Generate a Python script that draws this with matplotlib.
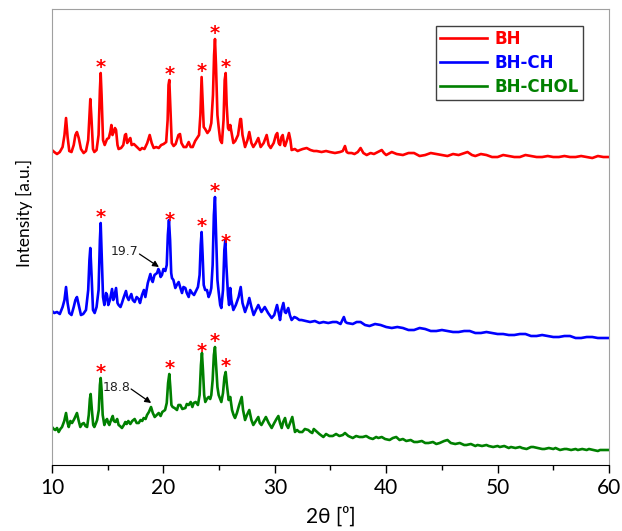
import numpy as np
import matplotlib
matplotlib.use("Agg")
import matplotlib.pyplot as plt

# XRD patterns: (2theta [deg], intensity [a.u., stacked])
bh = [(10.0, 315), (10.2, 313), (10.45, 311), (10.7, 313), (10.95, 318), (11.12, 330), (11.26, 347),
      (11.4, 328), (11.55, 314), (11.75, 313), (11.95, 320), (12.1, 330), (12.24, 333), (12.4, 327),
      (12.6, 316), (12.84, 312), (13.05, 314), (13.25, 325), (13.36, 350), (13.44, 366), (13.55, 345),
      (13.68, 316), (13.8, 313), (14.0, 315), (14.18, 330), (14.3, 375), (14.37, 392), (14.45, 370),
      (14.58, 325), (14.73, 320), (14.94, 326), (15.1, 327), (15.25, 334), (15.33, 340), (15.43, 330),
      (15.54, 333), (15.65, 337), (15.75, 335), (15.88, 320), (15.98, 316), (16.2, 317), (16.4, 320),
      (16.55, 330), (16.64, 331), (16.75, 322), (16.9, 325), (17.03, 327), (17.15, 320), (17.35, 321),
      (17.63, 318), (17.9, 315), (18.08, 317), (18.3, 316), (18.55, 322), (18.77, 330), (18.95, 322),
      (19.13, 317), (19.35, 318), (19.58, 317), (19.8, 320), (20.02, 321), (20.25, 323), (20.38, 345),
      (20.46, 380), (20.53, 385), (20.62, 360), (20.75, 322), (20.92, 319), (21.1, 321), (21.35, 330),
      (21.49, 331), (21.62, 322), (21.82, 318), (22.05, 318), (22.27, 323), (22.45, 318), (22.63, 318),
      (22.85, 324), (23.02, 327), (23.2, 330), (23.32, 350), (23.43, 388), (23.52, 365), (23.62, 338),
      (23.75, 336), (23.95, 332), (24.15, 335), (24.3, 342), (24.45, 370), (24.55, 410), (24.63, 426),
      (24.72, 400), (24.85, 350), (24.96, 338), (25.1, 325), (25.25, 322), (25.4, 345), (25.5, 385),
      (25.59, 392), (25.68, 360), (25.8, 337), (25.9, 335), (26.0, 340), (26.15, 330), (26.28, 322),
      (26.45, 324), (26.7, 330), (26.9, 346), (26.97, 346), (27.1, 330), (27.33, 318), (27.55, 325),
      (27.71, 333), (27.9, 322), (28.07, 318), (28.3, 322), (28.52, 327), (28.73, 318), (29.0, 322),
      (29.27, 330), (29.45, 320), (29.63, 317), (29.9, 322), (30.1, 330), (30.22, 332), (30.35, 322),
      (30.47, 320), (30.6, 328), (30.71, 330), (30.85, 320), (30.92, 319), (31.1, 325), (31.27, 332),
      (31.4, 325), (31.51, 315), (31.8, 316), (32.05, 314), (32.26, 315), (32.5, 316), (32.86, 317),
      (33.2, 315), (33.5, 314), (33.76, 314), (34.2, 313), (34.6, 314), (34.95, 313), (35.4, 312),
      (35.85, 313), (36.1, 314), (36.3, 319), (36.45, 313), (36.6, 312), (36.9, 312), (37.15, 311),
      (37.45, 313), (37.7, 317), (37.95, 312), (38.25, 310), (38.6, 312), (38.9, 311), (39.25, 313),
      (39.6, 315), (39.8, 312), (40.0, 310), (40.5, 313), (40.94, 311), (41.5, 310), (42.0, 312),
      (42.5, 312), (43.0, 309), (43.5, 310), (44.0, 312), (44.5, 311), (45.0, 310), (45.5, 309),
      (46.0, 311), (46.5, 310), (47.3, 313), (47.7, 310), (48.0, 309), (48.5, 311), (49.0, 310),
      (49.5, 308), (50.0, 308), (50.5, 310), (51.0, 309), (51.5, 308), (52.0, 308), (52.5, 310),
      (53.0, 309), (53.5, 308), (54.0, 308), (54.5, 309), (55.0, 308), (55.5, 308), (56.0, 309),
      (56.5, 308), (57.0, 308), (57.5, 309), (58.0, 308), (58.5, 307), (59.0, 309), (59.5, 308),
      (60.0, 308)]

bh_ch = [(10.0, 154), (10.2, 152), (10.45, 153), (10.7, 151), (10.95, 158), (11.12, 165), (11.26, 178),
         (11.4, 162), (11.55, 152), (11.75, 150), (11.95, 158), (12.1, 165), (12.24, 168), (12.4, 160),
         (12.6, 150), (12.8, 151), (13.05, 155), (13.25, 175), (13.36, 205), (13.44, 217), (13.55, 190),
         (13.68, 155), (13.83, 152), (14.0, 158), (14.18, 175), (14.3, 225), (14.37, 242), (14.45, 215),
         (14.58, 168), (14.7, 160), (14.85, 172), (14.94, 170), (15.05, 160), (15.2, 165), (15.39, 176),
         (15.5, 165), (15.57, 167), (15.75, 177), (15.88, 162), (15.98, 160), (16.15, 158), (16.28, 162),
         (16.45, 168), (16.64, 174), (16.75, 168), (16.88, 165), (17.0, 168), (17.12, 171), (17.25, 165),
         (17.42, 163), (17.6, 168), (17.78, 166), (17.9, 162), (18.08, 170), (18.25, 175), (18.38, 168),
         (18.6, 182), (18.83, 191), (18.95, 185), (19.04, 183), (19.2, 190), (19.43, 192), (19.55, 196),
         (19.63, 194), (19.75, 188), (19.87, 190), (20.0, 196), (20.17, 194), (20.3, 200), (20.4, 230),
         (20.5, 245), (20.6, 225), (20.7, 192), (20.77, 187), (20.9, 185), (21.07, 177), (21.2, 180),
         (21.37, 183), (21.5, 178), (21.67, 172), (21.8, 178), (21.97, 177), (22.1, 172), (22.27, 168),
         (22.4, 175), (22.57, 172), (22.75, 170), (22.93, 174), (23.1, 178), (23.25, 190), (23.35, 220),
         (23.43, 233), (23.52, 210), (23.62, 180), (23.75, 175), (23.91, 175), (24.06, 168), (24.2, 172),
         (24.3, 177), (24.42, 200), (24.53, 250), (24.63, 268), (24.72, 235), (24.85, 185), (24.96, 173),
         (25.1, 160), (25.2, 157), (25.35, 175), (25.47, 215), (25.56, 225), (25.65, 200), (25.8, 170),
         (25.9, 160), (26.0, 177), (26.1, 165), (26.28, 155), (26.5, 160), (26.75, 168), (26.94, 178),
         (27.1, 162), (27.33, 153), (27.55, 160), (27.71, 167), (27.9, 158), (28.1, 150), (28.3, 155),
         (28.52, 160), (28.8, 153), (29.1, 158), (29.4, 152), (29.72, 147), (29.95, 150), (30.2, 160),
         (30.35, 152), (30.47, 145), (30.6, 155), (30.77, 162), (30.9, 153), (31.0, 152), (31.21, 157),
         (31.35, 150), (31.51, 145), (31.75, 148), (31.96, 147), (32.2, 145), (32.4, 145), (32.8, 144),
         (33.17, 143), (33.6, 144), (34.0, 142), (34.36, 143), (34.8, 142), (35.2, 143), (35.55, 143),
         (35.9, 141), (36.2, 148), (36.35, 143), (36.5, 142), (37.0, 141), (37.35, 143), (37.7, 143),
         (38.1, 140), (38.5, 139), (39.0, 141), (39.5, 140), (40.0, 138), (40.5, 137), (41.0, 138),
         (41.5, 137), (42.0, 135), (42.5, 135), (43.0, 137), (43.5, 136), (44.0, 134), (44.5, 134),
         (45.0, 135), (45.5, 134), (46.0, 133), (46.5, 133), (47.0, 134), (47.5, 134), (48.0, 132),
         (48.5, 132), (49.0, 133), (49.5, 132), (50.0, 131), (50.5, 131), (51.0, 130), (51.5, 130),
         (52.0, 131), (52.5, 131), (53.0, 129), (53.5, 129), (54.0, 130), (54.5, 129), (55.0, 128),
         (55.5, 128), (56.0, 129), (56.5, 129), (57.0, 127), (57.5, 127), (58.0, 128), (58.5, 128),
         (59.0, 127), (59.5, 127), (60.0, 127)]

bh_chol = [(10.0, 38), (10.15, 36), (10.3, 35), (10.45, 37), (10.6, 33), (10.75, 36), (10.9, 38),
           (11.1, 44), (11.26, 52), (11.4, 42), (11.5, 38), (11.65, 44), (11.8, 42), (12.0, 46),
           (12.24, 52), (12.4, 44), (12.54, 38), (12.7, 41), (12.85, 42), (13.0, 39), (13.15, 38),
           (13.3, 50), (13.4, 66), (13.47, 71), (13.58, 55), (13.7, 40), (13.8, 38), (13.95, 42),
           (14.05, 45), (14.2, 55), (14.3, 80), (14.37, 87), (14.45, 75), (14.55, 50), (14.7, 40),
           (14.82, 44), (14.94, 46), (15.05, 42), (15.15, 40), (15.3, 45), (15.45, 49), (15.55, 44),
           (15.69, 43), (15.85, 46), (15.98, 40), (16.1, 39), (16.28, 37), (16.45, 40), (16.58, 43),
           (16.7, 41), (16.85, 44), (17.03, 41), (17.2, 44), (17.42, 46), (17.6, 42), (17.78, 42),
           (17.95, 45), (18.1, 44), (18.23, 47), (18.4, 46), (18.53, 50), (18.7, 53), (18.89, 58),
           (19.05, 52), (19.22, 48), (19.4, 50), (19.58, 52), (19.75, 49), (19.9, 53), (20.02, 54),
           (20.15, 55), (20.3, 62), (20.42, 82), (20.53, 91), (20.62, 78), (20.72, 60), (20.83, 58),
           (21.0, 57), (21.22, 55), (21.35, 60), (21.52, 60), (21.7, 56), (21.97, 57), (22.1, 61),
           (22.27, 60), (22.45, 63), (22.6, 58), (22.72, 62), (22.9, 63), (23.1, 60), (23.25, 70),
           (23.37, 100), (23.46, 112), (23.55, 95), (23.66, 70), (23.76, 63), (23.9, 66), (24.06, 68),
           (24.2, 66), (24.3, 70), (24.42, 85), (24.53, 110), (24.63, 118), (24.73, 100), (24.85, 78),
           (24.96, 70), (25.1, 66), (25.2, 63), (25.35, 72), (25.48, 88), (25.59, 93), (25.7, 80),
           (25.86, 65), (26.0, 68), (26.16, 55), (26.3, 50), (26.43, 47), (26.6, 52), (26.8, 60),
           (27.03, 68), (27.15, 55), (27.33, 45), (27.5, 50), (27.71, 55), (27.9, 45), (28.07, 40),
           (28.3, 44), (28.52, 48), (28.65, 42), (28.8, 40), (29.0, 44), (29.2, 48), (29.45, 42),
           (29.72, 37), (29.95, 42), (30.15, 46), (30.32, 49), (30.47, 42), (30.62, 37), (30.75, 43),
           (30.92, 47), (31.05, 40), (31.2, 37), (31.4, 43), (31.57, 48), (31.7, 40), (31.81, 33),
           (32.0, 35), (32.2, 33), (32.47, 33), (32.7, 36), (33.0, 35), (33.2, 33), (33.36, 32),
           (33.5, 36), (33.7, 34), (34.0, 31), (34.36, 28), (34.6, 31), (34.9, 29), (35.2, 29),
           (35.5, 31), (35.8, 29), (36.1, 30), (36.3, 32), (36.6, 29), (37.0, 27), (37.3, 29),
           (37.6, 28), (37.9, 28), (38.2, 29), (38.5, 27), (38.8, 26), (39.1, 28), (39.3, 27),
           (39.6, 28), (39.9, 26), (40.3, 25), (40.6, 27), (40.9, 28), (41.2, 25), (41.5, 26),
           (41.8, 24), (42.2, 25), (42.5, 23), (42.8, 23), (43.2, 24), (43.5, 22), (43.8, 22),
           (44.2, 23), (44.5, 21), (44.8, 22), (45.2, 24), (45.5, 25), (45.8, 22), (46.2, 21),
           (46.6, 22), (47.0, 20), (47.2, 20), (47.6, 21), (48.0, 19), (48.2, 20), (48.6, 19),
           (49.0, 20), (49.2, 19), (49.6, 18), (50.0, 19), (50.2, 18), (50.6, 19), (51.0, 17),
           (51.2, 18), (51.6, 17), (52.0, 18), (52.2, 17), (52.6, 16), (53.0, 18), (53.2, 18),
           (53.6, 17), (54.0, 16), (54.2, 16), (54.6, 17), (55.0, 16), (55.2, 17), (55.6, 15),
           (56.0, 16), (56.2, 16), (56.6, 15), (57.0, 16), (57.2, 15), (57.6, 16), (58.0, 15),
           (58.2, 16), (58.6, 15), (59.0, 14), (59.2, 15), (59.6, 15), (60.0, 15)]

star_pos = [14.37, 20.53, 23.43, 24.63, 25.59]
labels = ["BH", "BH-CH", "BH-CHOL"]
colors = ["#ff0000", "#0000ff", "#008000"]

fig = plt.figure(figsize=(6.22, 5.31), dpi=100)
ax = fig.add_axes([0.0836, 0.1243, 0.8955, 0.8587])

for data, name, col in zip([bh, bh_ch, bh_chol], labels, colors):
    xs, ys = zip(*data)
    ax.plot(xs, ys, color=col, lw=1.9, label=name)
    for sx in star_pos:
        peak = np.interp(sx, xs, ys)
        ax.annotate("*", (sx, peak), xytext=(0, 4), textcoords="offset points",
                    ha="center", va="center", color="red", fontsize=14, fontweight="bold")

# shoulder labels with arrows
ax.text(16.55, 214, "19.7", fontsize=9, color="#222222", ha="center", va="center")
ax.annotate("", xy=(19.6, 198), xytext=(17.85, 211),
            arrowprops=dict(arrowstyle="-|>", color="black", lw=0.9, shrinkA=0, shrinkB=0,
                            mutation_scale=9))
ax.text(15.83, 78, "18.8", fontsize=9, color="#222222", ha="center", va="center")
ax.annotate("", xy=(18.9, 62), xytext=(17.1, 76),
            arrowprops=dict(arrowstyle="-|>", color="black", lw=0.9, shrinkA=0, shrinkB=0,
                            mutation_scale=9))

ax.set_xlim(10, 60)
ax.set_ylim(0, 456)
ax.set_yticks([])
ax.set_xticks(range(10, 61, 10))
ax.set_xticks(range(15, 60, 10), minor=True)
ax.tick_params(axis="x", which="major", length=6, width=1, direction="out", labelsize=15)
ax.tick_params(axis="x", which="minor", length=3.5, width=1, direction="out")
for lab in ax.get_xticklabels():
    lab.set_family(["Lato", "DejaVu Sans"])
for s in ["top", "left", "right"]:
    ax.spines[s].set_color("#a0a0a0")
ax.spines["bottom"].set_color("black")

ax.set_xlabel("2θ [⁰]", fontsize=15, family=["Lato", "DejaVu Sans"], labelpad=6)
ax.set_ylabel("Intensity [a.u.]", fontsize=12.5, family=["Lato", "DejaVu Sans"])
ax.yaxis.set_label_coords(-0.034, 0.553)

leg = ax.legend(loc="upper right", bbox_to_anchor=(0.953, 0.963), fancybox=False, framealpha=1,
                edgecolor="#404040", handlelength=2.8, handletextpad=0.45, borderpad=0.25,
                borderaxespad=0, prop=dict(weight="bold", size=12), labelspacing=0.35)
for txt, col in zip(leg.get_texts(), colors):
    txt.set_color(col)

fig.savefig("out.png", dpi=100)
